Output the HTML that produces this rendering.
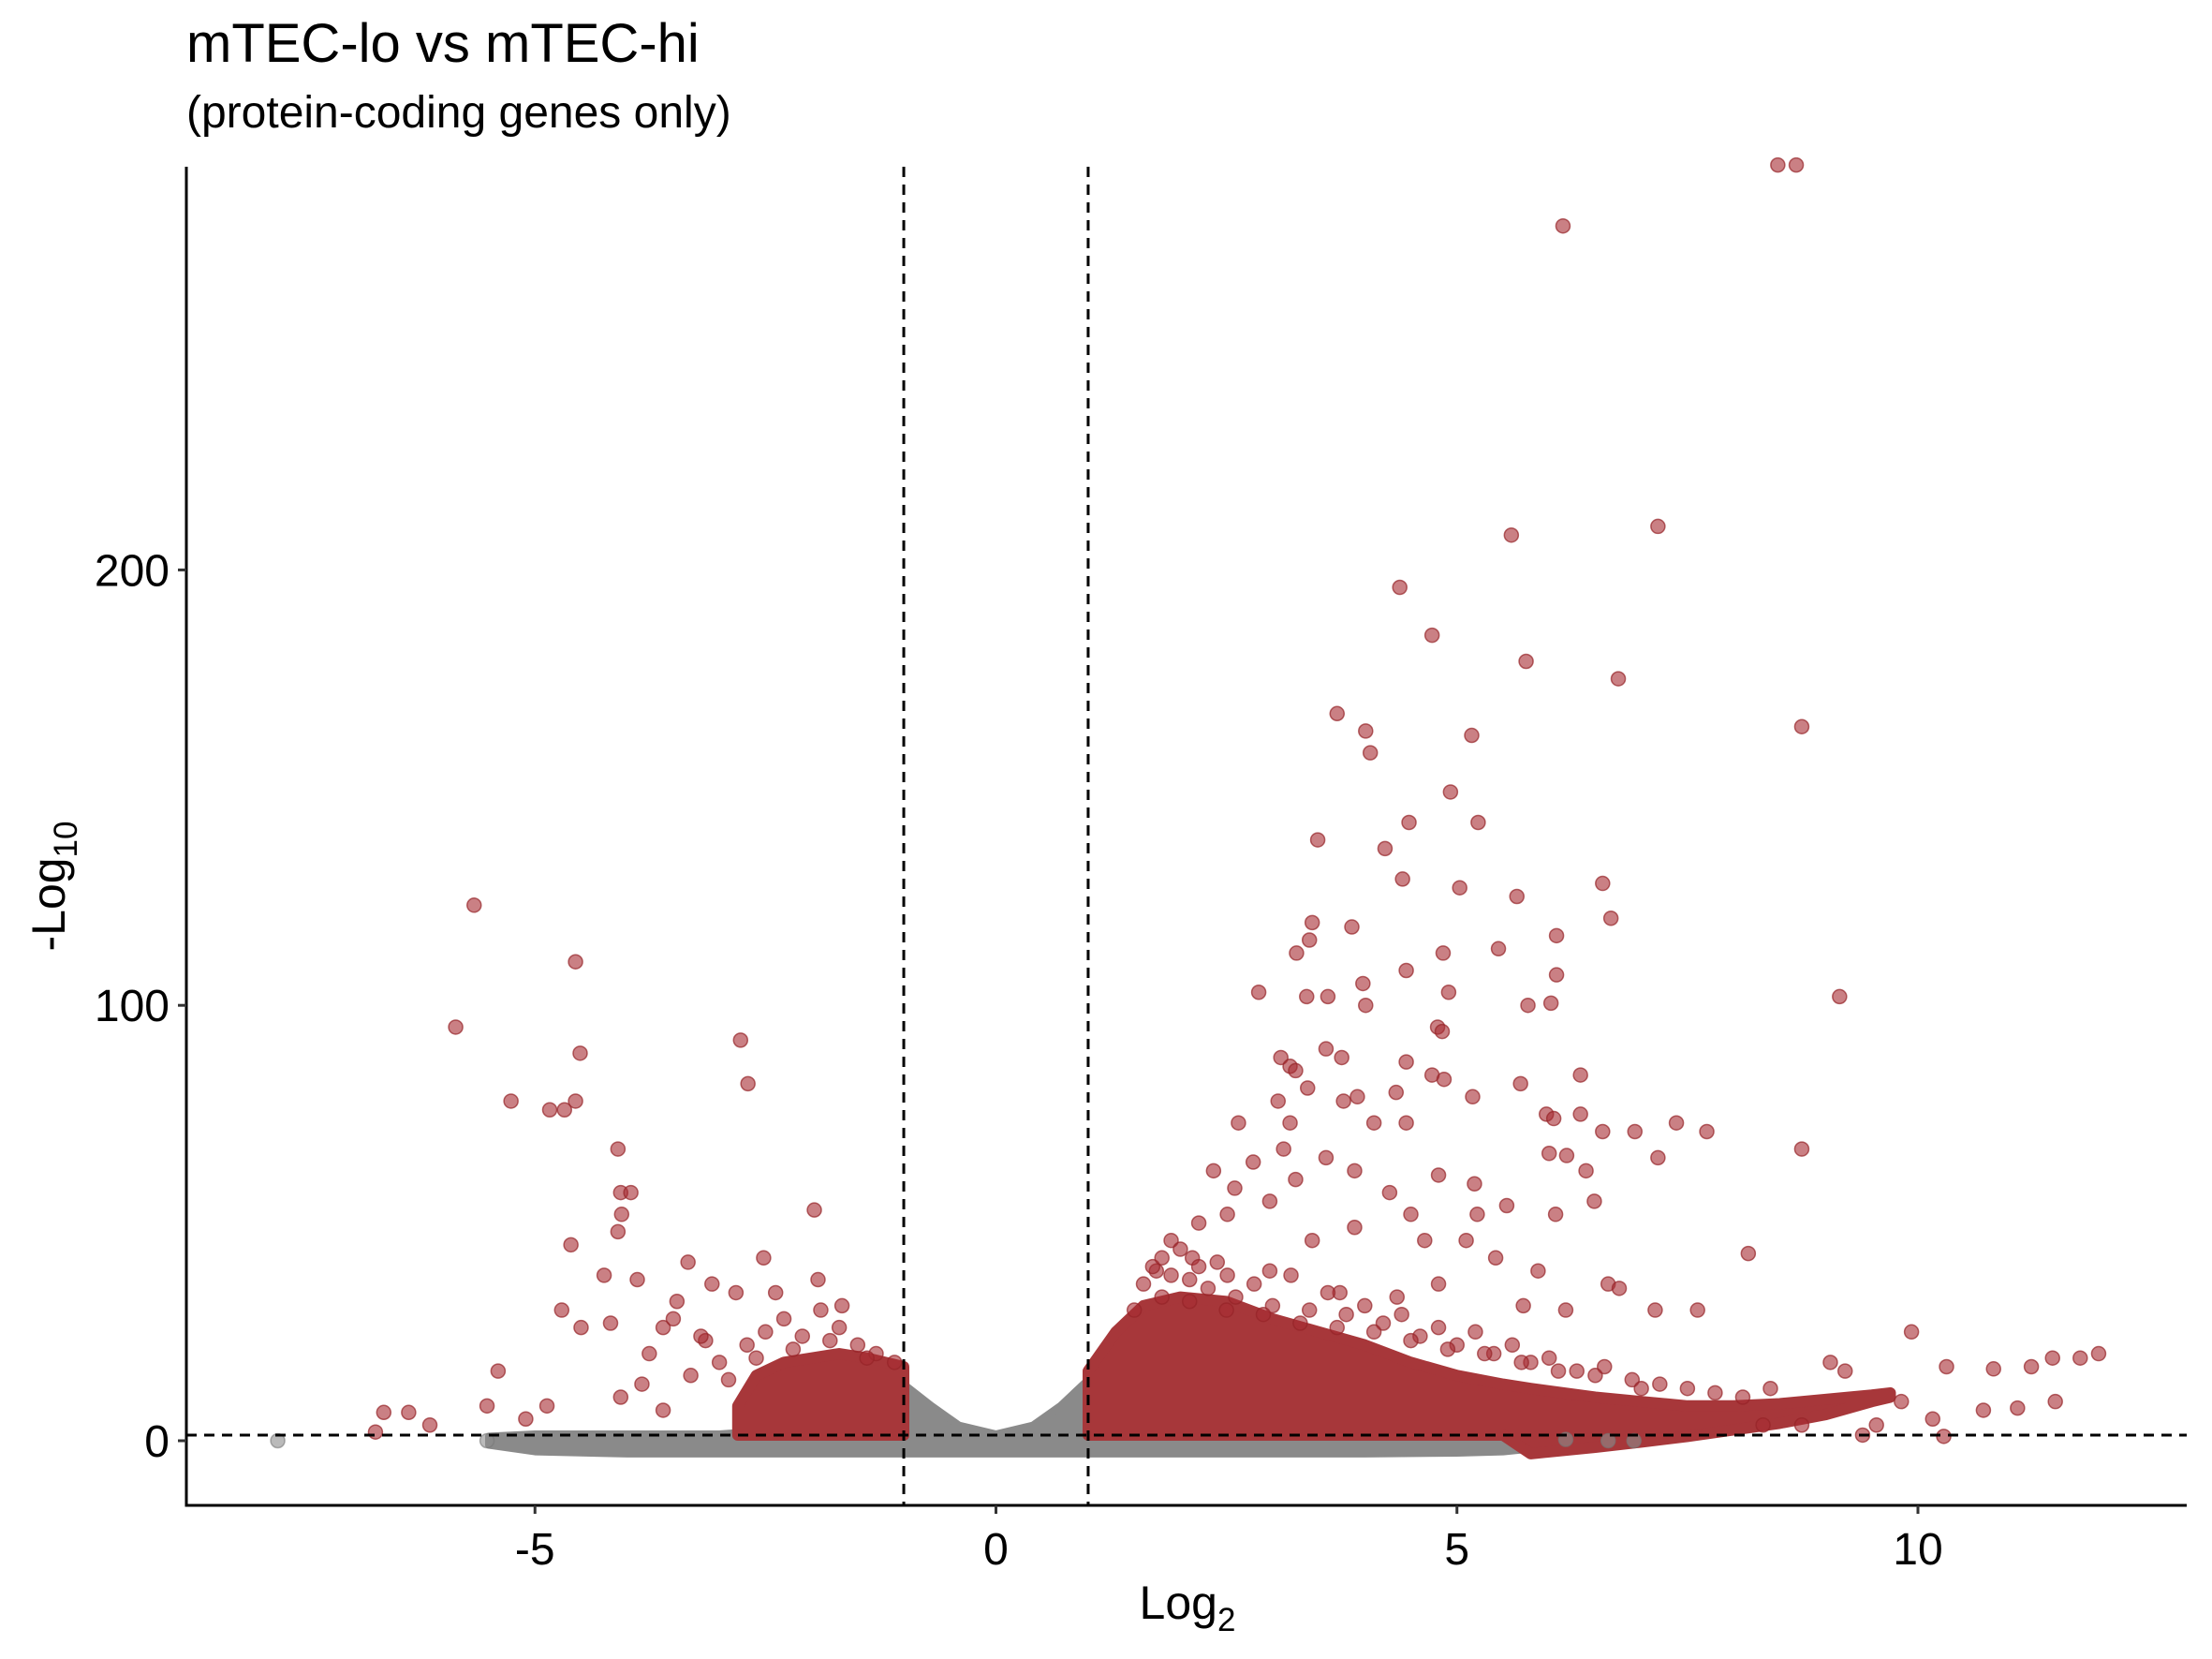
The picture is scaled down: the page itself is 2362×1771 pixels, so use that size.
<!DOCTYPE html>
<html><head><meta charset="utf-8"><style>
html,body{margin:0;padding:0;background:#fff;}
svg{display:block;font-family:"Liberation Sans",Arial,sans-serif;}
</style></head><body>
<svg id="chart" width="2362" height="1771" viewBox="0 0 2362 1771" xmlns="http://www.w3.org/2000/svg">
<text x="199" y="66" font-size="58" fill="#000">mTEC-lo vs mTEC-hi</text>
<text x="199" y="136" font-size="48" fill="#000">(protein-coding genes only)</text>
<g id="plot"></g>
</svg>
<script>
// ---- data ----
const xTicks = [-5, 0, 5, 10];
const yTicks = [0, 100, 200];
const xTickLabels = ["-5", "0", "5", "10"];
const yTickLabels = ["0", "100", "200"];
const fcCut = [-1, 1];
const pCut = 1.3;
// gray (non-significant) density envelope
const grayX = [-5.5, -5, -4, -3, -2, -1.5, -1, -0.7, -0.4, 0, 0.4, 0.7, 1, 1.5, 2, 3, 4, 5, 5.5, 6.2];
const grayTop = [1, 1.5, 1.5, 1.5, 3, 6, 13, 8, 3.5, 1.5, 3.5, 8, 14, 6, 3, 1.5, 1.5, 1.5, 1, 0];
const grayBottom = [-1, -2.5, -3, -3, -3, -3, -3, -3, -3, -3, -3, -3, -3, -3, -3, -3, -3, -2.8, -2.5, -1];
// dense significant clouds
const leftX = [-2.8, -2.6, -2.3, -2, -1.7, -1.4, -1];
const leftTop = [8, 15, 18, 19, 20, 19, 17];
const leftBottom = [1.3, 1.3, 1.3, 1.3, 1.3, 1.3, 1.3];
const rightX = [1, 1.3, 1.6, 2, 2.5, 3, 3.5, 4, 4.5, 5, 5.5, 5.8, 6.5, 7, 7.5, 8, 8.5, 9, 9.5, 9.7];
const rightTop = [16, 25, 31, 33, 32, 28, 25, 22, 18, 15, 13, 12, 10, 9, 8, 8, 8.5, 9.5, 10.5, 11];
const rightBottom = [1.3, 1.3, 1.3, 1.3, 1.3, 1.3, 1.3, 1.3, 1.3, 1.3, 1.3, -3, -1.5, -0.3, 1, 2.5, 4, 6, 9, 10];
// individual significant genes
const sigX = [-5.66,-5.86,-4.56,-4.51,-5.26,-4.84,-4.68,-4.56,-4.10,-4.07,-3.96,-4.06,-4.10,-4.61,-2.77,-2.69,-1.97,-4.25,-3.89,-3.34,-2.52,-4.71,-5.40,-6.64,-6.37,-6.14,-6.73,-5.52,-5.10,-4.87,-4.18,-3.61,-3.46,-3.08,-2.82,-2.39,-1.93,-1.67,-4.5,-3.76,-3.15,-4.07,-3.61,-3.84,-3.31,
8.48,8.68,6.15,7.18,5.59,4.38,4.73,5.75,6.75,3.70,4.01,8.74,5.16,4.06,4.93,4.48,5.23,3.49,4.22,4.41,6.58,5.03,5.65,6.67,3.43,3.40,3.86,3.26,5.45,4.85,6.08,6.08,9.15,2.85,3.60,3.37,3.98,4.01,5.77,6.02,4.45,4.91,4.79,4.84,3.09,3.58,3.75,3.19,3.25,4.45,4.73,4.86,5.69,6.34,3.06,3.38,3.77,3.92,4.34,5.17,2.63,3.19,4.10,4.45,5.97,6.34,6.05,7.38,6.58,6.93,7.71,7.18,8.74,6.00,6.19,6.40,6.49,6.07,5.54,5.19,4.80,5.22,9.93,8.16,7.15,7.61,9.05,9.21,11.46,11.76,11.96,11.23,10.82,10.31,11.49,11.08,10.71,9.82,10.16,10.28,9.40,9.55,8.74,8.32,
2.79,2.59,2.36,2.97,2.51,2.2,1.9,2.13,3.12,3.25,3.58,3.89,4.27,4.5,4.65,3.89,3.43,5.1,5.42,5.88,6.64,6.76,6.18,5.72,4.8,4.35,3.73,2.97,2.51,1.74,
1.6,1.7,1.8,1.9,2.0,2.1,2.2,2.3,2.4,2.6,2.8,3.0,3.2,3.4,3.6,3.8,4.0,4.2,4.4,4.6,4.8,5.0,5.2,5.4,5.6,5.8,6.0,6.3,6.6,6.9,7.2,7.5,7.8,8.1,8.4,1.5,1.8,2.1,2.5,2.9,3.3,3.7,4.1,4.5,4.9,5.3,5.7,6.1,6.5,7.0,
-2.7,-2.5,-2.3,-2.1,-1.9,-1.7,-1.5,-1.3,-1.1,-2.6,-2.2,-1.8,-1.4,-3.2,-3.5,-3.0,-2.9];
const sigY = [123,95,110,89,78,76,76,78,67,57,57,52,48,45,92,82,53,38,37,41,42,30,16,6.5,6.5,3.6,2,8,5,8,27,26,32,36,34,34,37,31,26,20,23,10,7,13,15,
293,293,279,210,208,196,185,179,175,167,163,164,162,158,149,142,142,138,136,129,128,127,125,120,119,115,118,112,113,112,116,107,102,103,102,102,105,100,100,100.5,108,103,95,94,88,90,88,86,85,87,84,83,82,84,78,81,78,79,80,79,73,73,73,73,75,75,74,73,71,71,71,65,67,66,65.5,62,55,52,54,59,61,52,25,43,30,30,18,16,19,19,20,17,16.5,17,9,7.5,7,9,5,1,1.3,3.6,3.6,3.6,
64,58,62,55,52,50,46,42,67,60,65,62,57,52,46,49,46,46,42,39,36,35,30,31,36,33,34,39,38,39,
36,40,42,38,44,37,40,35,41,33,36,31,38,30,34,29,31,27,29,24,26,22,25,20,22,18,19,16,17,14,13,12,11,10,12,30,33,32,30,29,27,26,25,23,21,20,18,16,15,12,
22,25,28,24,30,26,22,20,18,19,21,23,19,24,28,18,14];
const nsX = [-7.79, -5.52, 6.64, 6.92, 6.18];
const nsY = [0, 0, 0, 0, 0.3];

// ---- scales ----
const X0 = 1063.5, XU = 98.45, Y0 = 1538, YU = 4.648;
const L = 199, R = 2335, T = 178, B = 1607;
const sx = v => X0 + v * XU;
const sy = v => Y0 - v * YU;
const NS = "http://www.w3.org/2000/svg";
const plot = document.getElementById('plot');
function mk(tag, attrs) {
  const e = document.createElementNS(NS, tag);
  for (const k in attrs) e.setAttribute(k, attrs[k]);
  plot.appendChild(e);
  return e;
}
function areaPath(xs, tops, bots) {
  let d = "";
  xs.forEach((x, i) => { d += (i ? "L" : "M") + sx(x).toFixed(1) + "," + sy(tops[i]).toFixed(1); });
  for (let i = xs.length - 1; i >= 0; i--) d += "L" + sx(xs[i]).toFixed(1) + "," + sy(bots[i]).toFixed(1);
  return d + "Z";
}
const defs = mk('defs', {});
const cp = document.createElementNS(NS, 'clipPath'); cp.setAttribute('id', 'clip');
const cr = document.createElementNS(NS, 'rect');
cr.setAttribute('x', L); cr.setAttribute('y', T - 10); cr.setAttribute('width', R - L); cr.setAttribute('height', B - T + 10);
cp.appendChild(cr); defs.appendChild(cp);

const g = mk('g', {'clip-path': 'url(#clip)'});


function addTo(parent, tag, attrs) {
  const e = document.createElementNS(NS, tag);
  for (const k in attrs) e.setAttribute(k, attrs[k]);
  parent.appendChild(e);
  return e;
}
let e;
e = addTo(g, 'path', {d: areaPath(grayX, grayTop, grayBottom), fill: '#8a8a8a', stroke: '#8a8a8a', 'stroke-width': 8, 'stroke-linejoin': 'round'});


e = addTo(g, 'path', {d: areaPath(leftX, leftTop, leftBottom), fill: '#a7373a', stroke: '#a7373a', 'stroke-width': 12, 'stroke-linejoin': 'round'});


e = addTo(g, 'path', {d: areaPath(rightX, rightTop, rightBottom), fill: '#a7373a', stroke: '#a7373a', 'stroke-width': 12, 'stroke-linejoin': 'round'});


nsX.forEach((x, i) => {
  const c = addTo(g, 'circle', {cx: sx(x), cy: sy(nsY[i]), r: 7.5, fill: 'rgba(140,140,140,0.6)', stroke: 'rgba(120,120,120,0.6)', 'stroke-width': 1.5});
  
  
});
sigX.forEach((x, i) => {
  const c = addTo(g, 'circle', {cx: sx(x), cy: sy(sigY[i]), r: 7.5, fill: 'rgba(166,44,50,0.6)', stroke: 'rgba(150,35,40,0.7)', 'stroke-width': 1.5});
  
  
});
fcCut.forEach(v => {
  const l = mk('line', {x1: sx(v), x2: sx(v), y1: T, y2: B, stroke: '#000', 'stroke-width': 3, 'stroke-dasharray': '11,8'});
  
  
});
e = mk('line', {x1: L, x2: R, y1: sy(pCut), y2: sy(pCut), stroke: '#000', 'stroke-width': 3, 'stroke-dasharray': '11,8'});


e = mk('line', {x1: L, x2: L, y1: T, y2: B + 1.5, stroke: '#000', 'stroke-width': 3});


e = mk('line', {x1: L - 1.5, x2: R, y1: B, y2: B, stroke: '#000', 'stroke-width': 3});


xTicks.forEach((v, i) => {
  const t = mk('line', {x1: sx(v), x2: sx(v), y1: B, y2: B + 9, stroke: '#333', 'stroke-width': 3});
  
  
  const lb = mk('text', {x: sx(v), y: 1670, 'text-anchor': 'middle', 'font-size': 48, fill: '#000'});
  lb.textContent = xTickLabels[i];
  
  
});
yTicks.forEach((v, i) => {
  const t = mk('line', {x1: L - 9, x2: L, y1: sy(v), y2: sy(v), stroke: '#333', 'stroke-width': 3});
  
  
  const lb = mk('text', {x: L - 18, y: sy(v) + 17, 'text-anchor': 'end', 'font-size': 48, fill: '#000'});
  lb.textContent = yTickLabels[i];
  
  
});
const xt = mk('text', {x: 1268, y: 1728, 'text-anchor': 'middle', 'font-size': 50, fill: '#000'});
xt.innerHTML = 'Log<tspan font-size="35" dy="13">2</tspan>';


const yt = mk('text', {x: 0, y: 0, 'text-anchor': 'middle', 'font-size': 50, fill: '#000', transform: 'translate(69,946) rotate(-90)'});
yt.innerHTML = '-Log<tspan font-size="35" dy="13">10</tspan>';


</script>
</body></html>
